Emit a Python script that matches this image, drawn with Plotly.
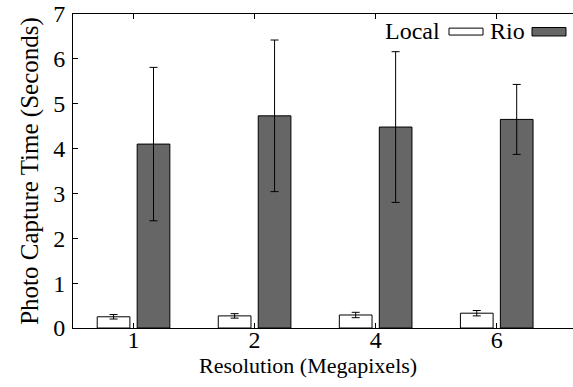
import plotly.graph_objects as go

categories = ["1", "2", "4", "6"]
local_vals = [0.25, 0.27, 0.29, 0.33]
local_err = [0.05, 0.05, 0.06, 0.06]
rio_vals = [4.10, 4.73, 4.48, 4.65]
rio_err = [1.71, 1.69, 1.68, 0.78]
y_ticks = [0, 1, 2, 3, 4, 5, 6, 7]

FONT = "Liberation Serif"
TF = dict(family=FONT, size=24, color="black")

fig = go.Figure()
fig.add_trace(go.Bar(
    x=categories, y=local_vals, name="Local",
    width=0.27, offset=-0.30,
    marker=dict(color="white", line=dict(color="black", width=1)),
    error_y=dict(type="data", array=local_err, color="black", thickness=1, width=4),
))
fig.add_trace(go.Bar(
    x=categories, y=rio_vals, name="Rio",
    width=0.27, offset=0.03,
    marker=dict(color="#666666", line=dict(color="black", width=1)),
    error_y=dict(type="data", array=rio_err, color="black", thickness=1, width=4),
))

fig.update_layout(
    width=573, height=387,
    margin=dict(l=73, r=0, t=14, b=59),
    plot_bgcolor="white", paper_bgcolor="white",
    barmode="overlay",
    showlegend=False,
    font=dict(family=FONT, size=22, color="black"),
)
fig.update_xaxes(
    type="category", range=[-0.5, 3.63],
    showline=True, linecolor="black", linewidth=1, mirror="ticks",
    ticks="inside", ticklen=5, tickcolor="black",
    showgrid=False, zeroline=False, tickfont=TF, ticklabelstandoff=-10,
)
fig.update_yaxes(
    range=[0, 7], tickvals=y_ticks,
    showline=True, linecolor="black", linewidth=1, mirror=False,
    ticks="inside", ticklen=5, tickcolor="black",
    showgrid=False, zeroline=False, tickfont=TF, ticklabelstandoff=2,
    title=dict(text="Photo Capture Time (Seconds)", standoff=7, font=dict(family=FONT, size=25)),
)

# X-axis title (placed as in the reference, slightly left of the plot centre)
fig.add_annotation(xref="paper", yref="paper", x=0.47, y=-0.121, text="Resolution (Megapixels)",
                   showarrow=False, xanchor="center", yanchor="middle",
                   font=dict(family=FONT, size=22, color="black"))

# Legend (text left of swatch, as in the reference)
fig.add_annotation(xref="paper", yref="paper", x=0.738, y=0.946, text="Local",
                   showarrow=False, xanchor="right", yanchor="middle",
                   font=dict(family=FONT, size=24, color="black"))
fig.add_shape(type="rect", xref="paper", yref="paper", x0=0.752, x1=0.82, y0=0.933, y1=0.955,
              fillcolor="white", line=dict(color="black", width=1))
fig.add_annotation(xref="paper", yref="paper", x=0.908, y=0.946, text="Rio",
                   showarrow=False, xanchor="right", yanchor="middle",
                   font=dict(family=FONT, size=24, color="black"))
fig.add_shape(type="rect", xref="paper", yref="paper", x0=0.918, x1=0.986, y0=0.93, y1=0.957,
              fillcolor="#666666", line=dict(color="black", width=1))

fig.write_html("out.html")
